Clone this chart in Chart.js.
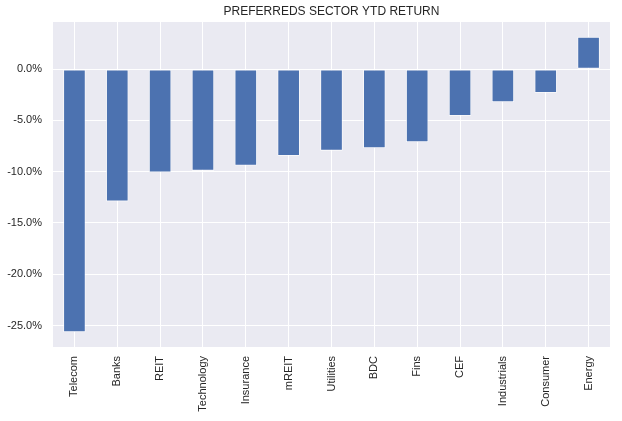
<!DOCTYPE html>
<html>
<head>
<meta charset="utf-8">
<script src="https://cdn.jsdelivr.net/npm/chart.js@4/dist/chart.umd.min.js"></script>
<style>
  html, body { margin: 0; padding: 0; background: #fff; }
  #wrap { width: 622px; height: 421px; position: relative; }
</style>
</head>
<body>
<div id="wrap"><canvas id="chart_preferredsSectorYtd"></canvas></div>
<script>
// sectors, sorted worst to best
var sectors = ['Telecom', 'Banks', 'REIT', 'Technology', 'Insurance', 'mREIT', 'Utilities',
               'BDC', 'Fins', 'CEF', 'Industrials', 'Consumer', 'Energy'];
// YTD return in %
var ytdReturn = [-25.65, -12.9, -10.05, -9.9, -9.4, -8.45, -7.95, -7.7, -7.1, -4.55, -3.2, -2.3, 3.15];
var yTicks = [-25, -20, -15, -10, -5, 0];
var chartTitle = 'PREFERREDS SECTOR YTD RETURN';

var fontFamily = '"Liberation Sans", Arial, sans-serif';

var chart_preferredsSectorYtd = new Chart(document.getElementById('chart_preferredsSectorYtd'), {
    type: 'bar',
    data: {
        labels: sectors,
        datasets: [
            {
                label: 'YTD return',
                data: ytdReturn,
                backgroundColor: '#4C72B0',
                borderColor: '#ffffff',
                borderWidth: 0.8,
                borderSkipped: false,
                barPercentage: 0.52,
                categoryPercentage: 1.0
            }
        ]
    },
    options: {
        animation: false,
        responsive: true,
        maintainAspectRatio: false,
        layout: {
            padding: { top: 22, right: 12, left: 0, bottom: 0 }
        },
        plugins: {
            legend: { display: false },
            title: { display: false },
            tooltip: { enabled: false }
        },
        scales: {
            x: {
                type: 'category',
                offset: true,
                grid: {
                    offset: false,
                    color: '#ffffff',
                    lineWidth: 1,
                    drawTicks: false
                },
                border: { display: false },
                ticks: {
                    color: '#262626',
                    font: { family: fontFamily, size: 11 },
                    minRotation: 90,
                    maxRotation: 90,
                    autoSkip: false,
                    padding: 9
                },
                afterFit: function (scale) { scale.height = 74; }
            },
            y: {
                type: 'linear',
                min: -27.1,
                max: 4.6,
                grid: {
                    color: '#ffffff',
                    lineWidth: 1,
                    drawTicks: false
                },
                border: { display: false },
                afterBuildTicks: function (scale) {
                    scale.ticks = yTicks.map(function (v) { return { value: v }; });
                },
                ticks: {
                    color: '#262626',
                    font: { family: fontFamily, size: 11 },
                    padding: 11,
                    callback: function (value) { return value.toFixed(1) + '%'; }
                },
                afterFit: function (scale) { scale.width = 53; }
            }
        }
    },
    plugins: [{
        id: 'seabornBackground',
        beforeDraw: (chart) => {
            const ctx = chart.ctx;
            const area = chart.chartArea;
            ctx.save();
            ctx.fillStyle = '#ffffff';
            ctx.fillRect(0, 0, chart.width, chart.height);
            ctx.fillStyle = '#EAEAF2';
            ctx.fillRect(area.left, area.top, area.right - area.left, area.bottom - area.top);
            ctx.restore();
        },
        afterDraw: (chart) => {
            // title centred over the axes, like matplotlib
            const ctx = chart.ctx;
            const area = chart.chartArea;
            ctx.save();
            ctx.fillStyle = '#262626';
            ctx.font = '12px ' + fontFamily;
            ctx.textAlign = 'center';
            ctx.textBaseline = 'middle';
            ctx.fillText(chartTitle, (area.left + area.right) / 2, 11.5);
            ctx.restore();
        }
    }]
});
</script>
</body>
</html>
